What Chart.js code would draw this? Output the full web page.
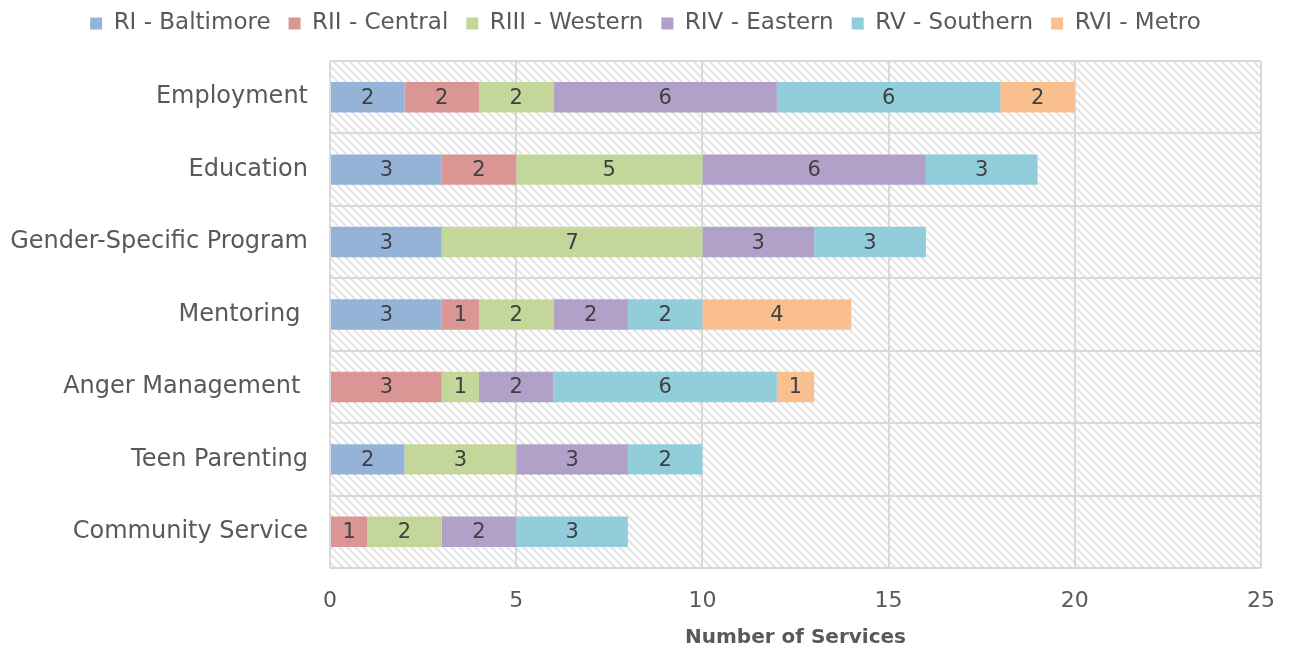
<!DOCTYPE html>
<html>
<head>
<meta charset="utf-8">
<script src="https://cdn.jsdelivr.net/npm/chart.js@4"></script>
<style>
  body { margin: 0; background: #fff; }
  #wrap { width: 1289px; height: 650px; }
</style>
</head>
<body>
<div id="wrap"><canvas id="servicos" width="1289" height="650"></canvas></div>
<script>
// dados
const categorias = ['Employment', 'Education', 'Gender-Specific Program', 'Mentoring ', 'Anger Management ', 'Teen Parenting', 'Community Service'];
const regioes = ['RI - Baltimore', 'RII - Central', 'RIII - Western', 'RIV - Eastern', 'RV - Southern', 'RVI - Metro'];
const rI   = [2, 3, 3, 3, 0, 2, 0];
const rII  = [2, 2, 0, 1, 3, 0, 1];
const rIII = [2, 5, 7, 2, 1, 3, 2];
const rIV  = [6, 6, 3, 2, 2, 3, 2];
const rV   = [6, 3, 3, 2, 6, 2, 3];
const rVI  = [2, 0, 0, 4, 1, 0, 0];
const xTicks = [0, 5, 10, 15, 20, 25];

const cores = ['#95b3d7', '#da9694', '#c4d79b', '#b1a0c7', '#92cddc', '#fabf8f'];
const series = [rI, rII, rIII, rIV, rV, rVI];
const fonte = "'DejaVu Sans', sans-serif";

// hachurado do fundo
function hachura() {
    const c = document.createElement('canvas');
    c.width = 8; c.height = 8;
    const g = c.getContext('2d');
    g.strokeStyle = '#e4e4e4';
    g.lineWidth = 2;
    g.beginPath();
    g.moveTo(-2, -2); g.lineTo(10, 10);
    g.moveTo(-2, 6); g.lineTo(2, 10);
    g.moveTo(6, -2); g.lineTo(10, 2);
    g.stroke();
    return g.createPattern(c, 'repeat');
}

const fundo = {
    id: 'fundo',
    afterInit(chart) {
        // espaço extra entre a legenda e o gráfico, e legenda um pouco à direita
        const leg = chart.legend;
        const fitOrig = leg.fit.bind(leg);
        leg.fit = function () { fitOrig(); this.height += 16; };
        const drawOrig = leg.draw.bind(leg);
        leg.draw = function () {
            chart.ctx.save();
            chart.ctx.translate(15, 0);
            drawOrig();
            chart.ctx.restore();
        };
    },
    beforeDraw(chart) {
        const a = chart.chartArea, ctx = chart.ctx;
        ctx.save();
        ctx.fillStyle = hachura();
        ctx.fillRect(a.left, a.top, a.right - a.left, a.bottom - a.top);
        ctx.restore();
    }
};

// rótulos nos segmentos
const rotulos = {
    id: 'rotulos',
    afterDatasetsDraw(chart) {
        const ctx = chart.ctx;
        ctx.save();
        ctx.font = '21px ' + fonte;
        ctx.fillStyle = '#404040';
        ctx.textAlign = 'center';
        ctx.textBaseline = 'middle';
        chart.data.datasets.forEach((ds, i) => {
            chart.getDatasetMeta(i).data.forEach((bar, j) => {
                const v = ds.data[j];
                if (!v) return;
                const cx = (bar.x + bar.base) / 2;
                ctx.fillText(String(v), cx, bar.y + 1);
            });
        });
        ctx.restore();
    }
};

new Chart(document.getElementById('servicos'), {
    type: 'bar',
    data: {
        labels: categorias,
        datasets: regioes.map((r, i) => ({
            label: r,
            data: series[i],
            backgroundColor: cores[i],
            borderWidth: 0,
            barPercentage: 0.42,
            categoryPercentage: 1
        }))
    },
    options: {
        indexAxis: 'y',
        responsive: false,
        animation: false,
        layout: { padding: { left: 0, right: 28, top: -6, bottom: 0 } },
        plugins: {
            legend: {
                position: 'top',
                labels: {
                    boxWidth: 12,
                    boxHeight: 12,
                    padding: 18,
                    color: '#595959',
                    font: { family: fonte, size: 23 }
                }
            },
            tooltip: { enabled: false }
        },
        scales: {
            x: {
                stacked: true,
                min: 0,
                max: 25,
                afterBuildTicks(scale) { scale.ticks = xTicks.map(v => ({ value: v })); },
                afterFit(scale) {
                    scale.height = 82;
                    scale.paddingRight = 0;
                },
                grid: { color: '#d9d9d9', lineWidth: 2, drawTicks: false },
                border: { display: false },
                ticks: { color: '#595959', padding: 20, font: { family: fonte, size: 22 } },
                title: {
                    display: true,
                    text: 'Number of Services',
                    color: '#595959',
                    padding: { top: 0, bottom: 0 },
                    font: { family: fonte, size: 20, weight: 'bold' }
                }
            },
            y: {
                stacked: true,
                afterFit(scale) { scale.width = 330; },
                grid: { color: '#d9d9d9', lineWidth: 2, drawTicks: false, offset: true },
                border: { display: false },
                ticks: { color: '#595959', padding: 22, font: { family: fonte, size: 24 } }
            }
        }
    },
    plugins: [fundo, rotulos]
});
</script>
</body>
</html>
